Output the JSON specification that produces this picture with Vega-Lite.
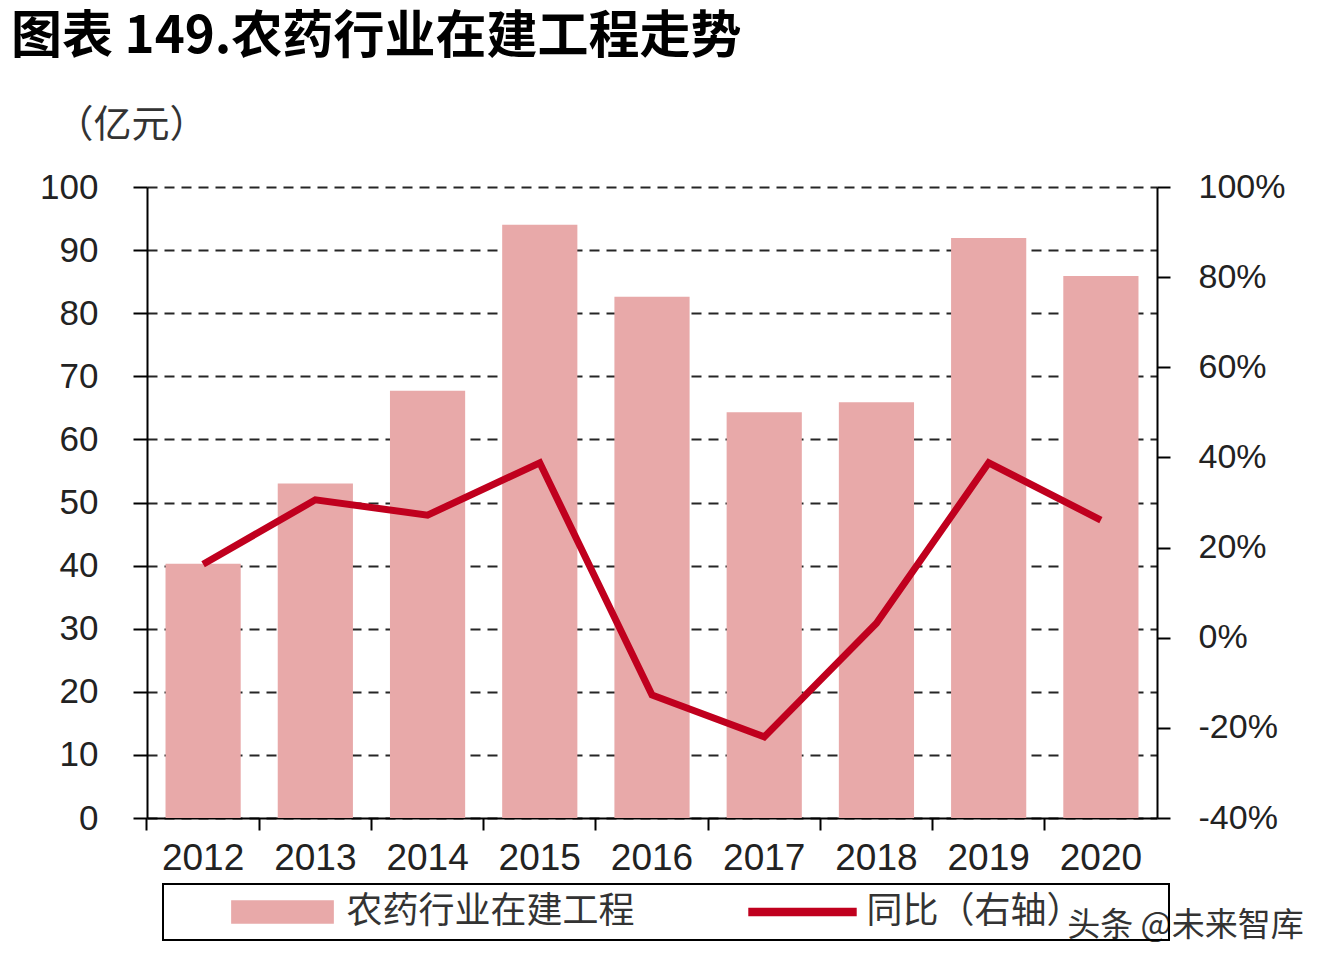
{
  "$schema": "https://vega.github.io/schema/vega-lite/v6.json",
  "autosize": {"type": "none"},
  "width": 1010,
  "height": 631,
  "padding": {"left": 147, "top": 187, "right": 177, "bottom": 152},
  "background": "white",
  "title": {
    "text": "图表 149.农药行业在建工程走势",
    "anchor": "start",
    "frame": "group",
    "dx": -136,
    "font": "Noto Sans CJK SC",
    "fontSize": 51,
    "fontWeight": "bold",
    "color": "#000000",
    "offset": 42
  },
  "data": {
    "values": [
      {"year": "2012", "value": 40.3, "yoy": 16.3},
      {"year": "2013", "value": 53.0, "yoy": 30.6},
      {"year": "2014", "value": 67.7, "yoy": 27.2},
      {"year": "2015", "value": 94.0, "yoy": 38.8},
      {"year": "2016", "value": 82.6, "yoy": -12.7},
      {"year": "2017", "value": 64.3, "yoy": -22.0},
      {"year": "2018", "value": 65.9, "yoy": 3.2},
      {"year": "2019", "value": 91.9, "yoy": 38.8},
      {"year": "2020", "value": 85.9, "yoy": 26.1}
    ]
  },
  "encoding": {
    "x": {
      "field": "year",
      "type": "nominal",
      "scale": {"paddingInner": 0.33, "paddingOuter": 0.165},
      "axis": {
        "title": "头条 @未来智库",
        "titleX": 1038,
        "titleY": 107,
        "titleAlign": "center",
        "titleBaseline": "middle",
        "titleFont": "Noto Sans CJK SC",
        "titleFontSize": 33,
        "titleFontWeight": "normal",
        "titleColor": "#333333",
        "labelAngle": 0,
        "bandPosition": -0.2467,
        "tickSize": 12,
        "tickColor": "#000000",
        "tickWidth": 2,
        "domainColor": "#000000",
        "domainWidth": 2,
        "labelPadding": 10,
        "labelFontSize": 37,
        "grid": false
      }
    }
  },
  "layer": [
    {
      "mark": {"type": "bar", "color": "#E8A9A9"},
      "encoding": {
        "y": {
          "field": "value",
          "type": "quantitative",
          "scale": {"domain": [0, 100], "nice": false},
          "axis": {
            "orient": "left",
            "title": "（亿元）",
            "titleAngle": 0,
            "titleX": -16,
            "titleY": -62,
            "titleAlign": "center",
            "titleBaseline": "middle",
            "titleFont": "Noto Sans CJK SC",
            "titleFontSize": 38,
            "titleFontWeight": "normal",
            "titleColor": "#333333",
            "values": [0, 10, 20, 30, 40, 50, 60, 70, 80, 90, 100],
            "grid": true,
            "gridColor": "#000000",
            "gridDash": [10, 7],
            "gridWidth": 2,
            "gridOpacity": 0.85,
            "tickSize": 14,
            "tickColor": "#000000",
            "tickWidth": 2,
            "domainColor": "#000000",
            "domainWidth": 2,
            "labelPadding": 35,
            "labelFontSize": 35
          }
        },
        "color": {
          "datum": "农药行业在建工程",
          "type": "nominal",
          "scale": {
            "domain": ["农药行业在建工程", "同比（右轴）"],
            "range": ["#E8A9A9", "#C0001E"]
          },
          "legend": {
            "title": null,
            "orient": "none",
            "legendX": 16,
            "legendY": 697,
            "direction": "horizontal",
            "strokeColor": "#000000",
            "padding": 10,
            "symbolSize": 484,
            "symbolOffset": 91.5,
            "labelOffset": 46,
            "columnPadding": 58,
            "labelLimit": 500,
            "labelFont": "Noto Sans CJK SC",
            "labelFontSize": 36,
            "labelColor": "#333333",
            "encode": {
              "symbols": {
                "update": {
                  "shape": {"signal": "datum.value === '同比（右轴）' ? 'M-4.86,-0.32H4.86V0.32H-4.86Z M32.1,0' : 'M-4.6,-1H4.6V1H-4.6Z'"},
                  "fill": {"signal": "datum.value === '同比（右轴）' ? '#C0001E' : '#E8A9A9'"},
                  "stroke": {"value": "transparent"},
                  "opacity": {"value": 1}
                }
              }
            }
          }
        }
      }
    },
    {
      "mark": {"type": "line", "color": "#C0001E", "strokeWidth": 7, "strokeJoin": "miter"},
      "encoding": {
        "y": {
          "field": "yoy",
          "type": "quantitative",
          "scale": {"domain": [-40, 100], "nice": false},
          "axis": {
            "orient": "right",
            "title": null,
            "values": [-40, -20, 0, 20, 40, 60, 80, 100],
            "labelExpr": "datum.value + '%'",
            "grid": false,
            "tickSize": 13,
            "tickColor": "#000000",
            "tickWidth": 2,
            "domainColor": "#000000",
            "domainWidth": 2,
            "labelPadding": 28,
            "labelFontSize": 34
          }
        },
        "color": {"datum": "同比（右轴）", "type": "nominal"}
      }
    }
  ],
  "resolve": {"scale": {"y": "independent"}},
  "config": {
    "view": {"stroke": null},
    "legend": {"strokeWidth": 2},
    "axis": {
      "labelFont": "Liberation Sans",
      "labelColor": "#222222",
      "labelFontWeight": "normal"
    }
  }
}
